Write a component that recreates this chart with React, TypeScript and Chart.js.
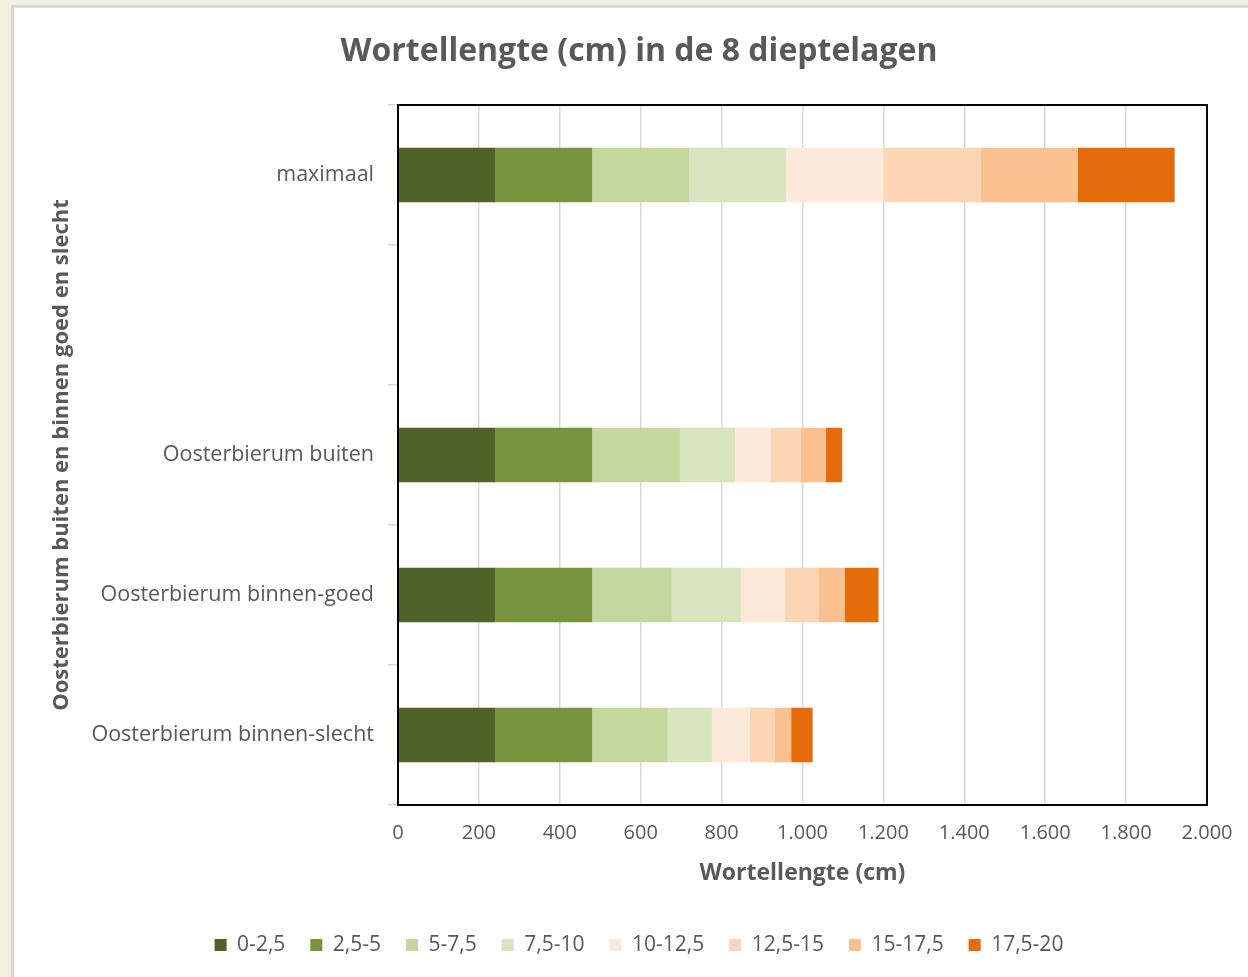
import React, { useEffect, useRef } from "react";
import { Chart, registerables } from "chart.js";

Chart.register(...registerables);

const categories = [
  "maximaal",
  "",
  "Oosterbierum buiten",
  "Oosterbierum binnen-goed",
  "Oosterbierum binnen-slecht",
];

const layers = ["0-2,5", "2,5-5", "5-7,5", "7,5-10", "10-12,5", "12,5-15", "15-17,5", "17,5-20"];

const layerColors = ["#4F6228", "#77933C", "#C3D69B", "#D7E4BD", "#FDE9D9", "#FCD5B5", "#FAC090", "#E46C0A"];

// values per layer, in order of categories
const layer0 = [240, null, 240, 240, 240];
const layer1 = [240, null, 240, 240, 240];
const layer2 = [240, null, 217, 197, 187];
const layer3 = [240, null, 136, 171, 109];
const layer4 = [240, null, 88, 109, 94];
const layer5 = [240, null, 74, 82, 62];
const layer6 = [240, null, 63, 65, 40];
const layer7 = [240, null, 40, 84, 53];

const layerValues = [layer0, layer1, layer2, layer3, layer4, layer5, layer6, layer7];

const xTicks = [0, 200, 400, 600, 800, 1000, 1200, 1400, 1600, 1800, 2000];

const FONT = "'Open Sans', 'DejaVu Sans', sans-serif";
const TEXT = "#595959";

const fmt = (v: number) => String(v).replace(/\B(?=(\d{3})+(?!\d))/g, ".");

const borderPlugin = {
  id: "plotBorder",
  afterDatasetsDraw(chart: any) {
    const { ctx, chartArea } = chart;
    ctx.save();
    ctx.strokeStyle = "#000";
    ctx.lineWidth = 2;
    ctx.strokeRect(chartArea.left, chartArea.top, chartArea.right - chartArea.left, chartArea.bottom - chartArea.top);
    ctx.restore();
  },
};

export default function App() {
  const ref = useRef<HTMLCanvasElement | null>(null);

  useEffect(() => {
    document.body.style.margin = "0";
    const canvas = ref.current!;
    const chart = new Chart(canvas, {
      type: "bar",
      data: {
        labels: categories,
        datasets: layers.map((name, i) => ({
          label: name,
          data: layerValues[i] as any,
          backgroundColor: layerColors[i],
          borderWidth: 0,
          barPercentage: 0.39,
          categoryPercentage: 1,
        })),
      },
      plugins: [borderPlugin],
      options: {
        indexAxis: "y",
        animation: false,
        responsive: false,
        maintainAspectRatio: false,
        layout: { padding: { left: 30, right: 0, top: 0, bottom: 11.5 } },
        plugins: {
          title: {
            display: true,
            text: "Wortellengte (cm) in de 8 dieptelagen",
            color: TEXT,
            font: { family: FONT, size: 32, weight: "bold" },
            padding: { top: 32.8, bottom: 33.8 },
          },
          legend: {
            position: "bottom",
            labels: {
              color: TEXT,
              font: { family: FONT, size: 21 },
              boxWidth: 12,
              boxHeight: 12,
              padding: 25,
            },
          },
          tooltip: { enabled: false },
        },
        scales: {
          x: {
            type: "linear",
            stacked: true,
            min: 0,
            max: 2000,
            afterBuildTicks: (s: any) => {
              s.ticks = xTicks.map((v) => ({ value: v }));
            },
            ticks: {
              color: TEXT,
              font: { family: FONT, size: 20 },
              padding: 16,
              callback: (v: any) => fmt(Number(v)),
            },
            grid: { color: "#d9d9d9", lineWidth: 1.5, drawTicks: false },
            border: { display: false },
            title: {
              display: true,
              text: "Wortellengte (cm)",
              color: TEXT,
              font: { family: FONT, size: 23, weight: "bold" },
              padding: { top: 0, bottom: 22.7 },
            },
            afterFit: (s: any) => {
              s.height = 104.5;
              s.paddingRight = 41;
            },
          },
          y: {
            type: "category",
            stacked: true,
            ticks: {
              color: TEXT,
              font: { family: FONT, size: 21.5 },
              padding: 14,
            },
            grid: {
              display: true,
              drawOnChartArea: false,
              drawTicks: true,
              tickLength: 10,
              color: "#d9d9d9",
              lineWidth: 1.5,
              offset: true,
            },
            border: { display: false },
            title: {
              display: true,
              text: "Oosterbierum buiten en binnen goed en slecht",
              color: TEXT,
              font: { family: FONT, size: 22, weight: "bold" },
              padding: { top: 18.8, bottom: 0 },
            },
            afterFit: (s: any) => {
              s.width = 398 - 30;
            },
          },
        },
      } as any,
    });
    return () => chart.destroy();
  }, []);

  return (
    <div style={{ position: "fixed", left: 0, top: 0, width: 1248, height: 977, background: "#f2efdf", overflow: "hidden" }}>
      <div
        style={{
          position: "absolute",
          left: 11,
          top: 5,
          width: 1260,
          height: 990,
          background: "#ffffff",
          borderLeft: "3px solid #d8d8d8",
          borderTop: "3px solid #d8d8d8",
        }}
      />
      <canvas ref={ref} width={1248} height={977} style={{ position: "absolute", left: 0, top: 0 }} />
    </div>
  );
}
